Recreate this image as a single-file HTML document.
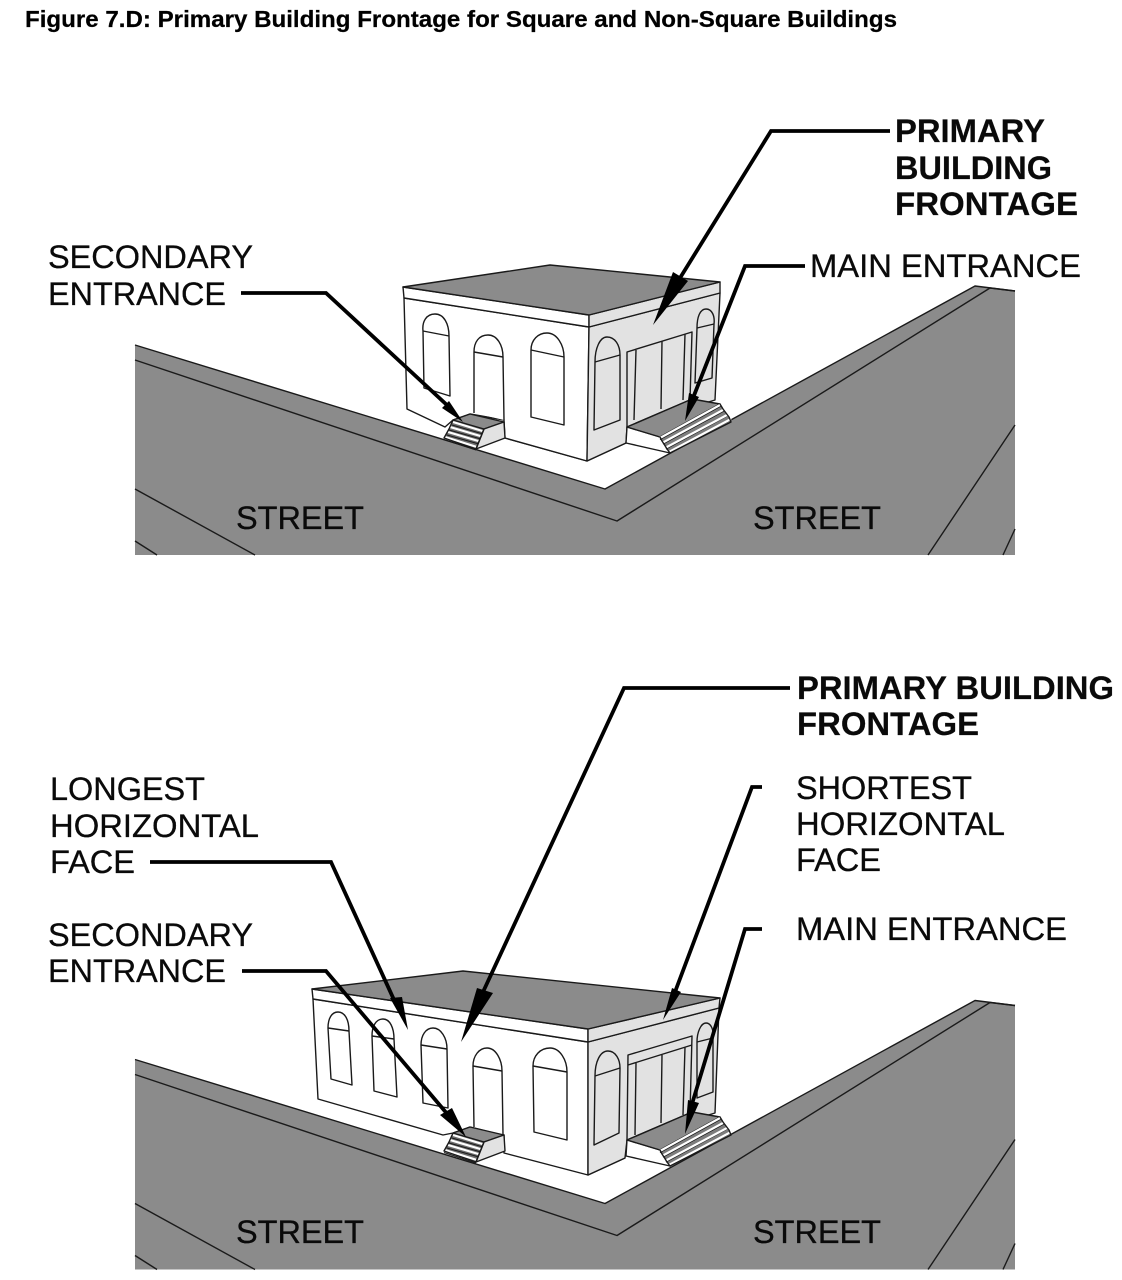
<!DOCTYPE html>
<html><head><meta charset="utf-8"><style>
html,body{margin:0;padding:0;background:#fff}
svg{display:block}
text{font-family:"Liberation Sans",Arial,sans-serif;font-size:32.5px;fill:#0a0a0a;stroke:#0a0a0a;stroke-width:.3}
.b{font-weight:bold;stroke-width:.2}
.t{font-weight:bold;font-size:23.5px;fill:#000;stroke:#000;stroke-width:.25}
.l{fill:none;stroke:#1a1a1a;stroke-width:1.4;stroke-linejoin:round}
.f{fill:#fff;stroke:#1a1a1a;stroke-width:1.4;stroke-linejoin:round}
.s{fill:#e2e2e2;stroke:#1a1a1a;stroke-width:1.4;stroke-linejoin:round}
.g{fill:#8b8b8b;stroke:#1a1a1a;stroke-width:1.4;stroke-linejoin:round}
.a{fill:none;stroke:#000;stroke-width:3.8;stroke-linejoin:miter}
.h{fill:#000}
.r{fill:#8b8b8b}
.w{fill:none;stroke:#fff;stroke-width:2.2}
.k{fill:none;stroke:#1a1a1a;stroke-width:1}
</style></head><body>
<svg width="1122" height="1280" viewBox="0 0 1122 1280" xmlns="http://www.w3.org/2000/svg">
<defs>
<g id="road">
<path class="r" d="M135 345L605 489L975 286L1015 291V555H135Z"/>
<path class="l" d="M135 345L605 489L975 286L1015 291"/>
<path class="l" d="M135 360L617 521L990 288L1015 291"/>
<path class="l" d="M135 489L255 555M135 541L157 555M1015 425L928 555M1015 529L1003 555"/>
</g>
<g id="stoopMain">
<path class="f" d="M627 427L660 437L670 453L626 443Z"/>
<path class="g" d="M627 427L692 399L720 404L660 437Z"/>
<path d="M660 437L720 404L723 409L726 413L729 417L731 422L670 453L667 449L664 444L662 441Z" fill="#7d7d7d"/>
<path class="k" d="M660 439.500L721 406M663 444L724 411M666 449L727 416M669 453L731 420"/>
<path class="w" d="M660 438L720 405M663 442.500L723 410M666 447.500L727 415M669 452L731 419"/>
<path class="l" d="M660 437L662 441L664 444L667 449L670 453L731 422L729 417L726 413L723 409L720 404"/>
</g>
<g id="stoopSec">
<path d="M453 420L484 429L476 449L444 438Z" fill="#6d6d6d"/>
<path class="k" d="M452 425L483 434M449 430L481 439M447 435L479 444M444 439.500L476 450"/>
<path class="w" d="M453 422L484 431.500M450 427L482 436.500M448 432L480 441.500M445 437L477 447"/>
<path class="g" d="M453 420L470 414L504 422L484 429Z"/>
<path class="s" d="M484 429L504 422L505 438L476 449Z"/>
<path class="l" d="M453 420L449 429L444 438L476 449L484 429"/>
</g>
</defs>

<text class="t" x="25" y="27" textLength="872" lengthAdjust="spacingAndGlyphs">Figure 7.D: Primary Building Frontage for Square and Non-Square Buildings</text>

<!-- TOP DIAGRAM -->
<use href="#road"/>
<path class="l" d="M587 461L626 443M505 438L587 461"/>
<!-- left wall -->
<path class="f" d="M404 298L589 327L587 461L505 438L504 420L470 414L453 420L445 427L407 409Z"/>
<!-- right wall -->
<path class="s" d="M589 327L720 293L715 400L627 427L626 443L587 461Z"/>
<!-- fascia -->
<path class="f" d="M403 287L589 315L589 327L404 298Z"/>
<path class="s" d="M589 315L720 282L720 293L589 327Z"/>
<path class="g" d="M403 287L550 265L720 282L589 315Z"/>
<!-- left openings -->
<path class="f" d="M424 388L423 331C422 322 426 314 435 314C444 314 449 324 449 336L450 396Z"/>
<path class="l" d="M423 331L449 336"/>
<path class="f" d="M474 413L474 352C474 342 479 335 488 335C497 335 503 345 503 357L504 420"/>
<path class="l" d="M474 352L503 357"/>
<path class="f" d="M531 417L531 350C531 340 538 333 547 333C557 333 564 345 564 357L564 425Z"/>
<path class="l" d="M531 350L564 357"/>
<!-- right openings -->
<path class="s" d="M594 430L595 362C595 348 600 337 607 337C615 337 620 345 620 355L620 420Z"/>
<path class="l" d="M595 362L620 355"/>
<path class="s" d="M695 383L697 328C697 317 700 309 706 309C712 309 715 316 714 324L712 378Z"/>
<path class="l" d="M697 328L714 324"/>
<path class="s" d="M627 352L692 332L690 400L627 427Z"/>
<path class="l" d="M636 350L634 420M662 341L661 409M685 334L683 400"/>
<use href="#stoopMain"/>
<use href="#stoopSec"/>

<!-- top leaders -->
<path class="a" d="M890 131H771L680 278"/>
<path class="h" d="M653 325L673 272L688 281Z"/>
<path class="a" d="M805 266H745L693 398"/>
<path class="h" d="M685 421L689 393L699 397Z"/>
<path class="a" d="M241 293H326L448 406"/>
<path class="h" d="M463 422L442 408L449 401Z"/>

<text class="b" x="895" y="142" textLength="150" lengthAdjust="spacingAndGlyphs">PRIMARY</text>
<text class="b" x="895" y="179" textLength="157" lengthAdjust="spacingAndGlyphs">BUILDING</text>
<text class="b" x="895" y="215" textLength="183" lengthAdjust="spacingAndGlyphs">FRONTAGE</text>
<text x="48" y="268" textLength="205" lengthAdjust="spacingAndGlyphs">SECONDARY</text>
<text x="48" y="305" textLength="178" lengthAdjust="spacingAndGlyphs">ENTRANCE</text>
<text x="810" y="277" textLength="271" lengthAdjust="spacingAndGlyphs">MAIN ENTRANCE</text>
<text x="236" y="529" textLength="128" lengthAdjust="spacingAndGlyphs">STREET</text>
<text x="753" y="529" textLength="128" lengthAdjust="spacingAndGlyphs">STREET</text>

<!-- BOTTOM DIAGRAM -->
<use href="#road" y="714.5"/>
<path class="l" d="M588 1175L625 1158"/>
<!-- left wall -->
<path class="f" d="M313 999L588 1042L588 1175L504 1153L504 1135L470 1127L453 1133L443 1135L318 1099Z"/>
<!-- right wall -->
<path class="s" d="M588 1042L719 1008L715 1113L627 1140L625 1158L588 1175Z"/>
<!-- fascia -->
<path class="f" d="M312 989L588 1029L588 1042L313 999Z"/>
<path class="s" d="M588 1029L720 998L719 1008L588 1042Z"/>
<path class="g" d="M312 989L463 971L720 998L588 1029Z"/>
<!-- left openings -->
<path class="f" d="M331 1079L328 1028C328 1018 332 1012 338 1012C345 1012 349 1020 349 1031L352 1085Z"/>
<path class="l" d="M328 1028L349 1031"/>
<path class="f" d="M374 1091L372 1036C372 1026 376 1019 383 1019C390 1019 394 1028 394 1039L397 1097Z"/>
<path class="l" d="M372 1036L394 1039"/>
<path class="f" d="M423 1103L421 1045C421 1035 426 1028 433 1028C441 1028 447 1038 447 1049L448 1108Z"/>
<path class="l" d="M421 1045L447 1049"/>
<path class="f" d="M474 1127L473 1066C473 1056 479 1048 487 1048C496 1048 502 1060 502 1071L503 1135"/>
<path class="l" d="M473 1066L502 1071"/>
<path class="f" d="M534 1132L533 1066C533 1056 540 1048 550 1048C560 1048 567 1060 567 1072L567 1140Z"/>
<path class="l" d="M533 1066L567 1072"/>
<!-- right openings -->
<path class="s" d="M594 1145L595 1076C595 1062 600 1051 608 1051C616 1051 620 1060 620 1068L619 1133Z"/>
<path class="l" d="M595 1076L620 1068"/>
<path class="s" d="M697 1098L697 1042C697 1032 701 1023 706 1023C711 1023 714 1030 713 1038L713 1092Z"/>
<path class="l" d="M697 1042L713 1038"/>
<path class="s" d="M628 1055L692 1036L690 1113L627 1140Z"/>
<path class="l" d="M628 1065L692 1045M636 1063L635 1135M662 1055L661 1123M685 1047L683 1115"/>
<use href="#stoopMain" y="713"/>
<use href="#stoopSec" y="713"/>

<!-- bottom leaders -->
<path class="a" d="M790 688H624L483 992"/>
<path class="h" d="M461 1042L477 988L493 993Z"/>
<path class="a" d="M150 862H331L395 1002"/>
<path class="h" d="M408 1030L390 998L402 997Z"/>
<path class="a" d="M762 787H752L675 992"/>
<path class="h" d="M663 1020L672 988L681 992Z"/>
<path class="a" d="M762 929H745L692 1104"/>
<path class="h" d="M685 1134L688 1100L699 1103Z"/>
<path class="a" d="M242 971H326L449 1116"/>
<path class="h" d="M466 1137L440 1115L452 1108Z"/>

<text class="b" x="797" y="699" textLength="317" lengthAdjust="spacingAndGlyphs">PRIMARY BUILDING</text>
<text class="b" x="797" y="735" textLength="182" lengthAdjust="spacingAndGlyphs">FRONTAGE</text>
<text x="50" y="800" textLength="155" lengthAdjust="spacingAndGlyphs">LONGEST</text>
<text x="50" y="837" textLength="209" lengthAdjust="spacingAndGlyphs">HORIZONTAL</text>
<text x="50" y="873" textLength="85" lengthAdjust="spacingAndGlyphs">FACE</text>
<text x="48" y="946" textLength="205" lengthAdjust="spacingAndGlyphs">SECONDARY</text>
<text x="48" y="982" textLength="178" lengthAdjust="spacingAndGlyphs">ENTRANCE</text>
<text x="796" y="799" textLength="176" lengthAdjust="spacingAndGlyphs">SHORTEST</text>
<text x="796" y="835" textLength="209" lengthAdjust="spacingAndGlyphs">HORIZONTAL</text>
<text x="796" y="871" textLength="85" lengthAdjust="spacingAndGlyphs">FACE</text>
<text x="796" y="940" textLength="271" lengthAdjust="spacingAndGlyphs">MAIN ENTRANCE</text>
<text x="236" y="1243" textLength="128" lengthAdjust="spacingAndGlyphs">STREET</text>
<text x="753" y="1243" textLength="128" lengthAdjust="spacingAndGlyphs">STREET</text>
</svg>
</body></html>
